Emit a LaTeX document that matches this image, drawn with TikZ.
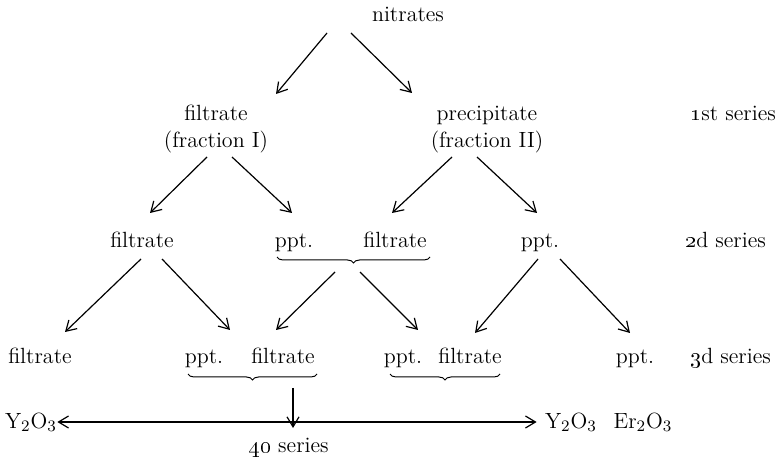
\documentclass[tikz,border=0pt]{standalone}
\usetikzlibrary{arrows.meta,decorations.pathreplacing}
\begin{document}
\begin{tikzpicture}[x=0.5pt,y=-0.5pt,
  lbl/.style={font=\fontsize{11}{13}\selectfont, inner sep=0pt, anchor=base},
  arr/.style={-{Straight Barb[length=5pt,width=6pt]}, line width=0.6pt},
  brc/.style={decorate, decoration={brace, mirror, amplitude=3pt}, line width=0.5pt}]
\useasboundingbox (0,0) rectangle (780,458);
% row 0
\node[lbl] (nit) at (408,22) {nitrates};
% row 1
\node[lbl] (fI) at (216,121) {filtrate};
\node[lbl] (fIb) at (216,148) {(fraction I)};
\node[lbl] (pII) at (487,121) {precipitate};
\node[lbl] (pIIb) at (487,148) {(fraction II)};
\node[lbl, anchor=base west] (s1) at (690,121) {\oldstylenums{1}st series};
% row 2
\node[lbl] (f2a) at (142,248) {filtrate};
\node[lbl] (p2a) at (294,248) {ppt.};
\node[lbl] (f2b) at (395,248) {filtrate};
\node[lbl] (p2b) at (540,248) {ppt.};
\node[lbl, anchor=base west] (s2) at (685,248) {\oldstylenums{2}d series};
% row 3
\node[lbl] (f3a) at (40,364) {filtrate};
\node[lbl] (p3a) at (204,364) {ppt.};
\node[lbl] (f3b) at (283,364) {filtrate};
\node[lbl] (p3b) at (403,364) {ppt.};
\node[lbl] (f3c) at (470,364) {filtrate};
\node[lbl] (p3c) at (635,364) {ppt.};
\node[lbl, anchor=base west] (s3) at (690,364) {\oldstylenums{3}d series};
% row 4
\node[lbl] (y1) at (31,428) {Y$_{2}$O$_{3}$};
\node[lbl] (y2) at (571,428) {Y$_{2}$O$_{3}$};
\node[lbl] (er) at (643,428) {Er$_{2}$O$_{3}$};
\node[lbl] (s4) at (289,452) {\oldstylenums{40} series};
% braces
\coordinate (b2l) at (277,257); \coordinate (b2r) at (430,257);
\draw[brc] (b2l) -- (b2r);
\coordinate (b2t) at (352,270);
\coordinate (b3al) at (188,374); \coordinate (b3ar) at (317,374);
\draw[brc] (b3al) -- (b3ar);
\coordinate (b3at) at (293,388);
\coordinate (b3bl) at (390,374); \coordinate (b3br) at (500,374);
\draw[brc] (b3bl) -- (b3br);
% arrow coordinates
\coordinate (a1s) at (327,33);  \coordinate (a1e) at (276,94);
\coordinate (a2s) at (351,33);  \coordinate (a2e) at (412,93);
\coordinate (a3s) at (207,157); \coordinate (a3e) at (150,213);
\coordinate (a4s) at (232,157); \coordinate (a4e) at (292,213);
\coordinate (a5s) at (452,157); \coordinate (a5e) at (392,213);
\coordinate (a6s) at (477,157); \coordinate (a6e) at (537,213);
\coordinate (a7s) at (141,259); \coordinate (a7e) at (65,332);
\coordinate (a8s) at (162,259); \coordinate (a8e) at (230,330);
\coordinate (a9s) at (335,272); \coordinate (a9e) at (276,330);
\coordinate (a10s) at (360,272); \coordinate (a10e) at (418,330);
\coordinate (a11s) at (538,259); \coordinate (a11e) at (475,333);
\coordinate (a12s) at (560,259); \coordinate (a12e) at (630,333);
\foreach \i in {1,...,12} {\draw[arr] (a\i s) -- (a\i e);}
% bottom
\coordinate (j) at (293,422);
\draw[arr] (b3at) -- (293,428);
\draw[arr] (j) -- (y1.east |- j);
\draw[arr] (j) -- ([xshift=-4pt]y2.west |- j);
\end{tikzpicture}
\end{document}
